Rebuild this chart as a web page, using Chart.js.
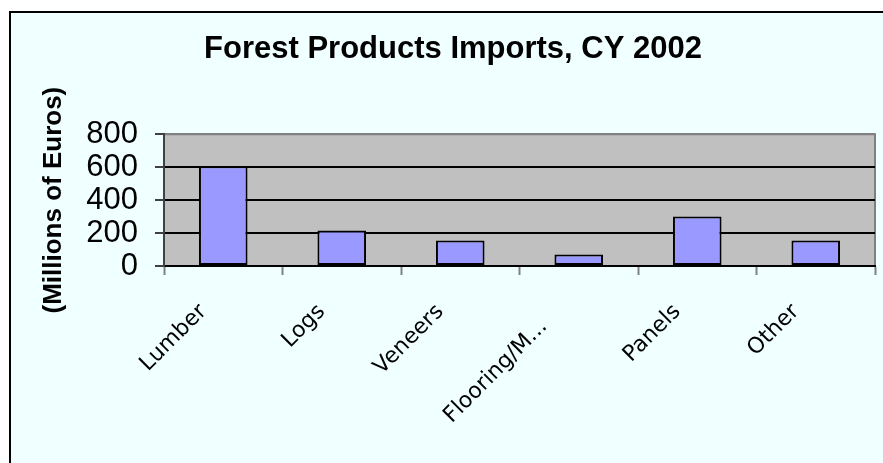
<!DOCTYPE html>
<html>
<head>
<meta charset="utf-8">
<script src="https://cdn.jsdelivr.net/npm/chart.js@4.4.1/dist/chart.umd.min.js"></script>
<style>
  html, body { margin: 0; padding: 0; background: #ffffff; }
  #wrap { position: relative; width: 883px; height: 463px; }
</style>
</head>
<body>
<div id="wrap"><canvas id="c" width="883" height="463"></canvas></div>
<script>
const chartTitle = 'Forest Products Imports, CY 2002';
const yAxisTitle = '(Millions of Euros)';
const categories = ['Lumber', 'Logs', 'Veneers', 'Flooring/M...', 'Panels', 'Other'];
const importValues = [605, 215, 155, 70, 300, 155];
const yTicks = [0, 200, 400, 600, 800];

const frameBg = {
  id: 'frameBg',
  beforeDraw(chart) {
    const ctx = chart.ctx;
    const a = chart.chartArea;
    ctx.save();
    ctx.fillStyle = '#ffffff';
    ctx.fillRect(0, 0, chart.width, chart.height);
    ctx.fillStyle = '#F0FFFF';
    ctx.fillRect(10, 12, chart.width - 10, chart.height - 12);
    ctx.strokeStyle = '#000000';
    ctx.lineWidth = 2;
    ctx.beginPath();
    ctx.moveTo(10, chart.height + 2);
    ctx.lineTo(10, 12);
    ctx.lineTo(chart.width + 2, 12);
    ctx.stroke();
    ctx.fillStyle = '#C0C0C0';
    ctx.fillRect(a.left, a.top, a.right - a.left, a.bottom - a.top);
    ctx.strokeStyle = '#808080';
    ctx.lineWidth = 2;
    ctx.beginPath();
    ctx.moveTo(a.left, a.top);
    ctx.lineTo(a.right, a.top);
    ctx.lineTo(a.right, a.bottom);
    ctx.stroke();
    ctx.restore();
  }
};

new Chart(document.getElementById('c'), {
  type: 'bar',
  data: {
    labels: categories,
    datasets: [{
      data: importValues,
      backgroundColor: '#9999FF',
      borderColor: '#000000',
      borderWidth: 2,
      borderSkipped: false,
      barPercentage: 0.41,
      categoryPercentage: 1.0
    }]
  },
  options: {
    responsive: false,
    animation: false,
    devicePixelRatio: 1,
    layout: { padding: { left: 31, right: 8, top: 0, bottom: 0 } },
    plugins: {
      legend: { display: false },
      tooltip: { enabled: false },
      title: {
        display: true,
        text: chartTitle,
        color: '#000000',
        font: { family: 'Liberation Sans', size: 31, weight: 'bold' },
        padding: { top: 31, bottom: 66 }
      }
    },
    scales: {
      x: {
        afterFit(scale) { scale.height = 197; },
        grid: {
          drawOnChartArea: false,
          drawTicks: true,
          tickLength: 9,
          tickColor: '#808080',
          tickWidth: 2
        },
        border: { display: true, color: '#000000', width: 2 },
        ticks: {
          autoSkip: false,
          maxRotation: 45,
          minRotation: 45,
          padding: 24,
          labelOffset: -20,
          color: '#000000',
          font: { family: 'DejaVu Sans', size: 22 },
          callback(value, index) {
            return categories[index] + (index === 3 ? '   ' : '');
          }
        }
      },
      y: {
        min: 0,
        max: 800,
        afterFit(scale) { scale.width = 133; },
        afterBuildTicks(scale) { scale.ticks = yTicks.map(v => ({ value: v })); },
        grid: {
          color(ctx) {
            if (ctx.tick && ctx.tick.value === 800) return '#808080';
            return '#000000';
          },
          lineWidth: 2,
          drawTicks: true,
          tickLength: 9,
          tickColor: '#404040',
          tickWidth: 2
        },
        border: { display: true, color: '#404040', width: 2 },
        ticks: {
          autoSkip: false,
          padding: 17,
          color: '#000000',
          font: { family: 'Liberation Sans', size: 31 }
        },
        title: {
          display: true,
          text: yAxisTitle,
          color: '#000000',
          font: { family: 'Liberation Sans', size: 26, weight: 'bold' },
          padding: { top: 7, bottom: 0 }
        }
      }
    }
  },
  plugins: [frameBg]
});
</script>
</body>
</html>
